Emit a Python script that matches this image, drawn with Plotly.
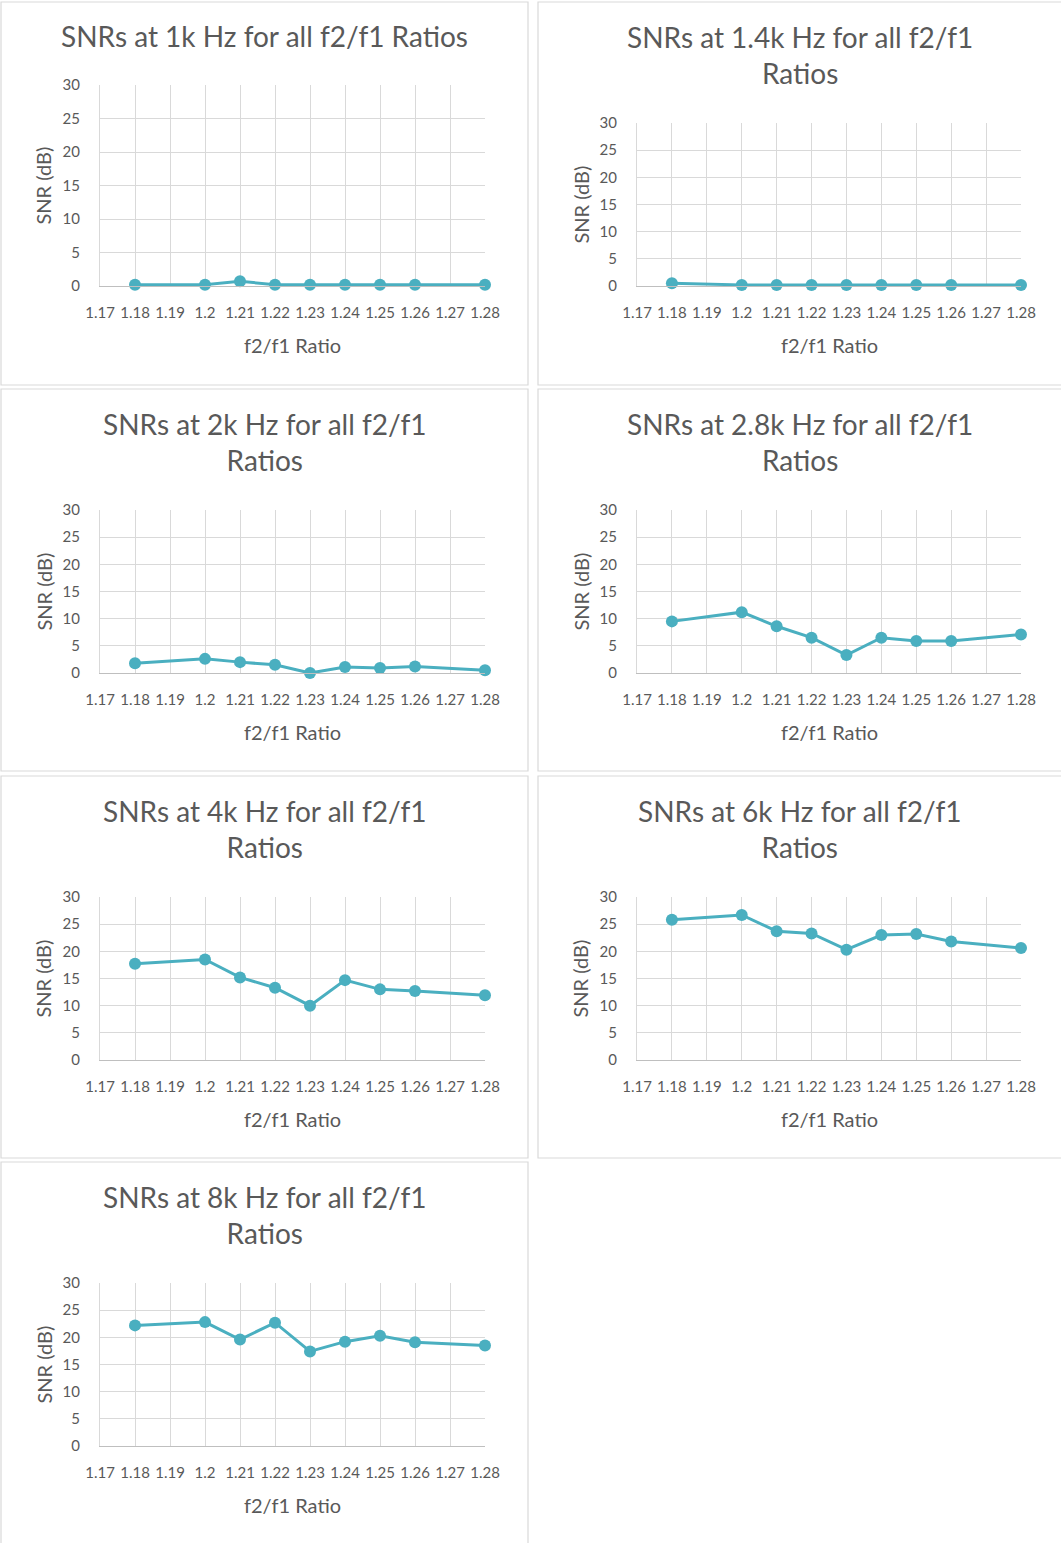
import plotly.graph_objects as go

W, H = 1061, 1543

# f2/f1 ratios that were measured
ratios = [1.18, 1.2, 1.21, 1.22, 1.23, 1.24, 1.25, 1.26, 1.28]

# axis ticks (every 0.01 from 1.17 to 1.28)
tick_vals = [1.17, 1.18, 1.19, 1.2, 1.21, 1.22, 1.23, 1.24, 1.25, 1.26, 1.27, 1.28]
tick_text = ["1.17", "1.18", "1.19", "1.2", "1.21", "1.22", "1.23", "1.24",
             "1.25", "1.26", "1.27", "1.28"]

# SNR (dB) per test frequency
snr_1k = [0.2, 0.2, 0.7, 0.2, 0.2, 0.2, 0.2, 0.2, 0.2]
snr_1_4k = [0.5, 0.2, 0.2, 0.2, 0.2, 0.2, 0.2, 0.2, 0.2]
snr_2k = [1.8, 2.6, 2.0, 1.5, 0.0, 1.1, 0.9, 1.2, 0.5]
snr_2_8k = [9.5, 11.2, 8.6, 6.5, 3.3, 6.5, 5.9, 5.9, 7.1]
snr_4k = [17.7, 18.5, 15.2, 13.3, 10.0, 14.7, 13.0, 12.7, 11.9]
snr_6k = [25.8, 26.7, 23.7, 23.3, 20.3, 23.0, 23.2, 21.8, 20.6]
snr_8k = [22.2, 22.8, 19.6, 22.7, 17.4, 19.2, 20.3, 19.1, 18.5]

titles = [
    "SNRs at 1k Hz for all f2/f1 Ratios",
    "SNRs at 1.4k Hz for all f2/f1<br>Ratios",
    "SNRs at 2k Hz for all f2/f1<br>Ratios",
    "SNRs at 2.8k Hz for all f2/f1<br>Ratios",
    "SNRs at 4k Hz for all f2/f1<br>Ratios",
    "SNRs at 6k Hz for all f2/f1<br>Ratios",
    "SNRs at 8k Hz for all f2/f1<br>Ratios",
]
series = [snr_1k, snr_1_4k, snr_2k, snr_2_8k, snr_4k, snr_6k, snr_8k]

LINE = "#4aafc0"
GRID = "#d9d9d9"
TEXT = "#595959"
FONT = "Lato"

# panel frames (pixels): x0, x1, y0, y1
col_x = [(1, 528), (538, 1070)]
row_y = [(2, 385), (389, 771), (776, 1158), (1162, 1560)]
# plot areas (pixels)
plot_x = [(100, 485), (637, 1021)]
plot_y = [(85, 286), (510, 673), (897, 1060), (1283, 1446)]
plot_y_14k = (123, 286)
# vertical centre of each panel title block
title_mid = [[36, 55], [442, 442], [829, 829], [1215, 1215]]


def px(x):
    return x / W


def py(y):
    return 1 - y / H


fig = go.Figure()
shapes = []
annotations = []

for i, (title, vals) in enumerate(zip(titles, series)):
    r, c = divmod(i, 2)
    n = i + 1
    xa = "xaxis" if n == 1 else f"xaxis{n}"
    ya = "yaxis" if n == 1 else f"yaxis{n}"
    xr = "x" if n == 1 else f"x{n}"
    yr = "y" if n == 1 else f"y{n}"

    fx0, fx1 = col_x[c]
    fy0, fy1 = row_y[r]
    shapes.append(dict(type="rect", xref="paper", yref="paper",
                       x0=px(fx0), x1=px(fx1), y0=py(fy1), y1=py(fy0),
                       line=dict(color=GRID, width=1.2), layer="below"))

    x0, x1 = plot_x[c]
    y0, y1 = plot_y_14k if i == 1 else plot_y[r]

    fig.add_trace(go.Scatter(
        x=ratios, y=vals, mode="lines+markers", xaxis=xr, yaxis=yr,
        line=dict(color=LINE, width=3),
        marker=dict(color=LINE, size=12),
        cliponaxis=False, showlegend=False,
    ))

    fig.layout[xa] = dict(
        domain=[px(x0), px(x1)], anchor=yr, range=[1.17, 1.28],
        tickmode="array", tickvals=tick_vals, ticktext=tick_text, tickangle=0,
        showgrid=True, gridcolor=GRID, gridwidth=1, zeroline=False,
        showline=True, linecolor="#bfbfbf", linewidth=1.2,
        ticks="outside", ticklen=13, tickcolor="rgba(0,0,0,0)",
        tickfont=dict(family=FONT, size=15, color=TEXT),
        automargin=False, fixedrange=True,
    )
    fig.layout[ya] = dict(
        domain=[py(y1), py(y0)], anchor=xr, range=[0, 30],
        tickmode="array", tickvals=[0, 5, 10, 15, 20, 25, 30],
        showgrid=True, gridcolor=GRID, gridwidth=1, zeroline=False,
        showline=True, linecolor=GRID, linewidth=1,
        ticks="outside", ticklen=16, tickcolor="rgba(0,0,0,0)",
        tickfont=dict(family=FONT, size=15, color=TEXT),
        automargin=False, fixedrange=True,
    )

    cx = (fx0 + min(fx1, 1061)) / 2
    annotations.append(dict(
        text=title, xref="paper", yref="paper",
        x=px(cx), y=py(title_mid[r][c]), xanchor="center", yanchor="middle",
        showarrow=False, align="center",
        font=dict(family=FONT, size=28, color=TEXT),
    ))
    # x-axis title
    annotations.append(dict(
        text="f2/f1 Ratio", xref="paper", yref="paper",
        x=px((x0 + x1) / 2), y=py(y1 + 59), xanchor="center", yanchor="middle",
        showarrow=False, font=dict(family=FONT, size=20, color=TEXT),
    ))
    # y-axis title
    annotations.append(dict(
        text="SNR (dB)", xref="paper", yref="paper",
        x=px(x0 - 57), y=py((y0 + y1) / 2), xanchor="center", yanchor="middle",
        textangle=-90, showarrow=False,
        font=dict(family=FONT, size=20, color=TEXT),
    ))

fig.update_layout(
    template="none",
    width=W, height=H,
    margin=dict(l=0, r=0, t=0, b=0, pad=0),
    paper_bgcolor="white", plot_bgcolor="white",
    shapes=shapes, annotations=annotations,
    font=dict(family=FONT, color=TEXT),
)

fig.write_html("out.html", config={"displayModeBar": False})
